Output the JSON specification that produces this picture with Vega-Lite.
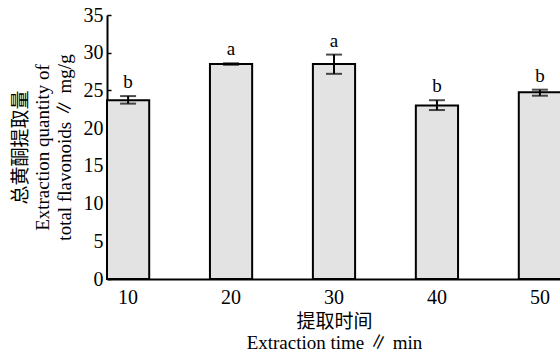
{
  "$schema": "https://vega.github.io/schema/vega-lite/v6.json",
  "autosize": "none",
  "width": 454,
  "height": 264,
  "padding": {"left": 107, "top": 15, "right": 0, "bottom": 76},
  "background": "white",
  "config": {
    "view": {"stroke": null},
    "font": "Liberation Serif, Noto Sans CJK SC",
    "axis": {"labelFont": "Liberation Serif", "titleFont": "Liberation Serif, Noto Sans CJK SC", "labelColor": "black", "titleColor": "black", "domainColor": "black", "domainWidth": 2, "tickColor": "black", "grid": false, "titleFontWeight": "normal"}
  },
  "data": {"values": [
    {"time": "10", "mean": 23.7, "lo": 23.25, "hi": 24.25, "sig": "b"},
    {"time": "20", "mean": 28.5, "lo": 28.4, "hi": 28.6, "sig": "a"},
    {"time": "30", "mean": 28.5, "lo": 27.2, "hi": 29.75, "sig": "a"},
    {"time": "40", "mean": 23.0, "lo": 22.4, "hi": 23.7, "sig": "b"},
    {"time": "50", "mean": 24.75, "lo": 24.3, "hi": 25.1, "sig": "b"}
  ]},
  "encoding": {
    "x": {"field": "time", "type": "ordinal", "scale": {"paddingInner": 0.59, "paddingOuter": 0},
      "axis": {"title": ["提取时间", "Extraction time ∥ min"], "labelAngle": 0, "labelFontSize": 20, "ticks": false, "labelPadding": 8, "titleFontSize": 19, "titleLineHeight": 21, "titlePadding": 5}}
  },
  "layer": [
    {"mark": {"type": "bar", "fill": "#e3e3e3", "stroke": "black", "strokeWidth": 2},
     "encoding": {"y": {"field": "mean", "type": "quantitative", "scale": {"domain": [0, 35], "nice": false},
       "axis": {"values": [0,5,10,15,20,25,30,35], "title": ["总黄酮提取量", "Extraction quantity of", "total flavonoids ∥ mg/g"], "labelFontSize": 20, "tickSize": -4, "tickWidth": 1.5, "labelPadding": 8, "titleFontSize": 19, "titleLineHeight": 22, "titlePadding": 9, "labelOverlap": false}}}},
    {"mark": {"type": "rule", "color": "black", "strokeWidth": 2},
     "encoding": {"y": {"field": "lo", "type": "quantitative",
       "axis": {"values": [0,5,10,15,20,25,30,35], "title": ["总黄酮提取量", "Extraction quantity of", "total flavonoids ∥ mg/g"], "labelFontSize": 20, "tickSize": -4, "tickWidth": 1.5, "labelPadding": 8, "titleFontSize": 19, "titleLineHeight": 22, "titlePadding": 9, "labelOverlap": false}}, "y2": {"field": "hi"}}},
    {"mark": {"type": "tick", "color": "black", "size": 16, "thickness": 2, "orient": "horizontal"},
     "encoding": {"y": {"field": "lo", "type": "quantitative",
       "axis": {"values": [0,5,10,15,20,25,30,35], "title": ["总黄酮提取量", "Extraction quantity of", "total flavonoids ∥ mg/g"], "labelFontSize": 20, "tickSize": -4, "tickWidth": 1.5, "labelPadding": 8, "titleFontSize": 19, "titleLineHeight": 22, "titlePadding": 9, "labelOverlap": false}}}},
    {"mark": {"type": "tick", "color": "black", "size": 16, "thickness": 2, "orient": "horizontal"},
     "encoding": {"y": {"field": "hi", "type": "quantitative",
       "axis": {"values": [0,5,10,15,20,25,30,35], "title": ["总黄酮提取量", "Extraction quantity of", "total flavonoids ∥ mg/g"], "labelFontSize": 20, "tickSize": -4, "tickWidth": 1.5, "labelPadding": 8, "titleFontSize": 19, "titleLineHeight": 22, "titlePadding": 9, "labelOverlap": false}}}},
    {"mark": {"type": "text", "baseline": "bottom", "dy": -4, "fontSize": 19, "font": "Liberation Serif", "color": "black"},
     "encoding": {"y": {"field": "hi", "type": "quantitative",
       "axis": {"values": [0,5,10,15,20,25,30,35], "title": ["总黄酮提取量", "Extraction quantity of", "total flavonoids ∥ mg/g"], "labelFontSize": 20, "tickSize": -4, "tickWidth": 1.5, "labelPadding": 8, "titleFontSize": 19, "titleLineHeight": 22, "titlePadding": 9, "labelOverlap": false}}, "text": {"field": "sig"}}}
  ]
}
